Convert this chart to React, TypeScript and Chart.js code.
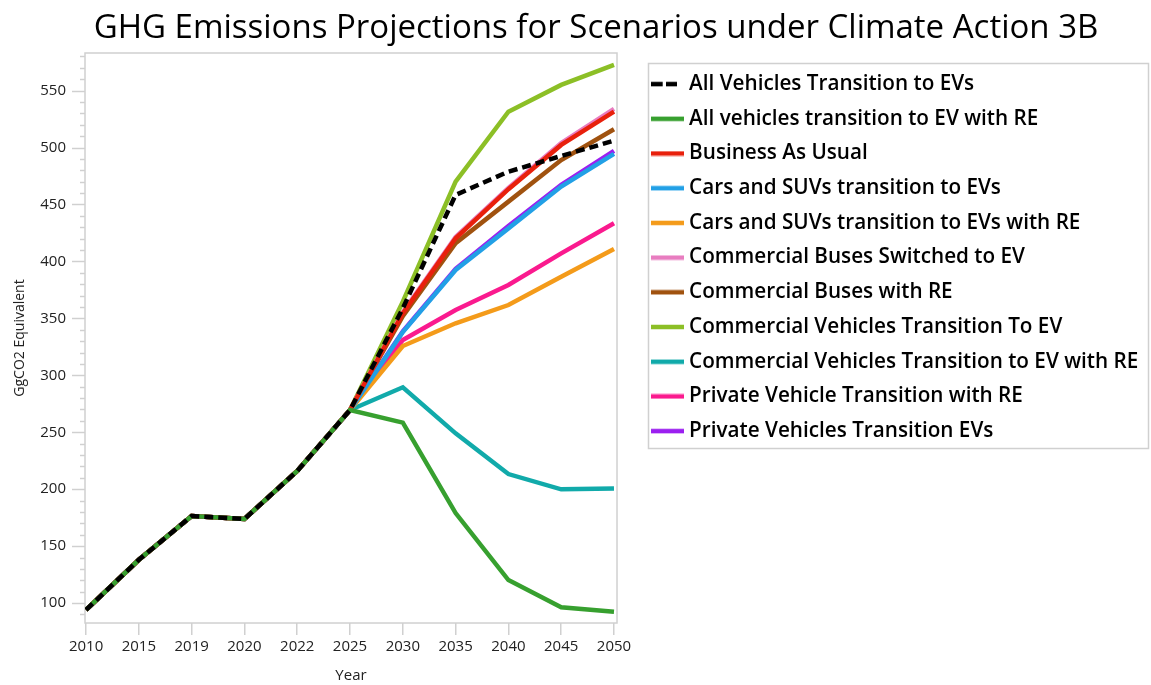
import React, { useEffect, useRef } from 'react';
import { Chart, registerables } from 'chart.js';
Chart.register(...registerables);

const years = ['2010', '2015', '2019', '2020', '2022', '2025', '2030', '2035', '2040', '2045', '2050'];

const allVehiclesEV = [94, 138, 176.4, 173.8, 216, 269.5, 358.8, 458.4, 478.8, 492.6, 506];
const allVehiclesEVRE = [94, 138, 176.4, 173.8, 216, 269.5, 258.4, 179, 120.2, 96.3, 92.4];
const businessAsUsual = [94, 138, 176.4, 173.8, 216, 269.5, 354.4, 420.3, 463.4, 502.3, 531.5];
const carsSUVsEV = [94, 138, 176.4, 173.8, 216, 269.5, 338, 392.5, 429, 465.7, 494.4];
const carsSUVsEVRE = [94, 138, 176.4, 173.8, 216, 269.5, 325.7, 345.7, 361.7, 386.6, 411];
const busesEV = [94, 138, 176.4, 173.8, 216, 269.5, 355.5, 421.5, 464.5, 504, 534];
const busesRE = [94, 138, 176.4, 173.8, 216, 269.5, 352, 416, 452.5, 489, 516];
const commercialEV = [94, 138, 176.4, 173.8, 216, 269.5, 364.6, 470, 531.5, 555, 572.6];
const commercialEVRE = [94, 138, 176.4, 173.8, 216, 269.5, 289.5, 249, 213.3, 199.9, 200.7];
const privateRE = [94, 138, 176.4, 173.8, 216, 269.5, 331, 357.4, 379.3, 407, 433.5];
const privateEV = [94, 138, 176.4, 173.8, 216, 269.5, 338.5, 393.5, 431, 467.3, 497];

const seriesNames = [
  'All Vehicles Transition to EVs',
  'All vehicles transition to EV with RE',
  'Business As Usual',
  'Cars and SUVs transition to EVs',
  'Cars and SUVs transition to EVs with RE',
  'Commercial Buses Switched to EV',
  'Commercial Buses with RE',
  'Commercial Vehicles Transition To EV',
  'Commercial Vehicles Transition to EV with RE',
  'Private Vehicle Transition with RE',
  'Private Vehicles Transition EVs',
];
const seriesValues = [
  allVehiclesEV, allVehiclesEVRE, businessAsUsual, carsSUVsEV, carsSUVsEVRE,
  busesEV, busesRE, commercialEV, commercialEVRE, privateRE, privateEV,
];
const seriesColors = [
  '#000000', '#37a02f', '#e8200c', '#22a0e6', '#f49b1a',
  '#e87dc0', '#a0520f', '#8cbf26', '#11aaaa', '#fa1a8e', '#9b1ff0',
];

const chartTitle = 'GHG Emissions Projections for Scenarios under Climate Action 3B';
const yTitle = 'GgCO2 Equivalent';
const xTitle = 'Year';

const FONT = '"Open Sans", "Noto Sans", sans-serif';

function legendSwatch(color: string, dashed: boolean): HTMLCanvasElement {
  const c = document.createElement('canvas');
  c.width = 33;
  c.height = 6;
  const g = c.getContext('2d')!;
  g.strokeStyle = color;
  g.lineWidth = 4.5;
  g.beginPath();
  if (dashed) {
    g.moveTo(0, 3); g.lineTo(11.7, 3);
    g.moveTo(15, 3); g.lineTo(26, 3);
  } else {
    g.moveTo(0, 3); g.lineTo(33, 3);
  }
  g.stroke();
  return c;
}

const decorPlugin = {
  id: 'decor',
  afterLayout(chart: any) {
    const lg = chart.legend;
    if (lg) {
      const w = lg.width;
      const h = lg.height;
      lg.left = 642.25;
      lg.right = 642.25 + w;
      lg.top = 59.75;
      lg.bottom = 59.75 + h;
    }
  },
  beforeDatasetsDraw(chart: any) {
    const { ctx, chartArea: a } = chart;
    ctx.save();
    ctx.strokeStyle = '#d0d0d0';
    ctx.lineWidth = 1.5;
    ctx.strokeRect(a.left, a.top, a.right - a.left, a.bottom - a.top);
    const ys = chart.scales.y;
    ys.ticks.forEach((t: any) => {
      if (t.value % 10 !== 0) return;
      const py = Math.round(ys.getPixelForValue(t.value)) + 0.5;
      const major = t.value % 50 === 0;
      ctx.beginPath();
      ctx.moveTo(a.left - (major ? 13 : 5), py);
      ctx.lineTo(a.left, py);
      ctx.stroke();
    });
    ctx.restore();
  },
  afterDraw(chart: any) {
    const { ctx } = chart;
    ctx.save();
    ctx.strokeStyle = '#d0d0d0';
    ctx.lineWidth = 1.5;
    ctx.strokeRect(648.5, 63.5, 500, 385);
    ctx.fillStyle = '#000';
    ctx.font = '400 33px ' + FONT;
    ctx.textAlign = 'center';
    ctx.textBaseline = 'alphabetic';
    ctx.fillText(chartTitle, 596, 38);
    ctx.restore();
  },
};

export default function App() {
  const ref = useRef<HTMLCanvasElement>(null);
  useEffect(() => {
    document.body.style.margin = '0';
    const canvas = ref.current!;
    const datasets = seriesNames.map((name, i) => ({
      label: name,
      data: seriesValues[i].map((v, k) => ({ x: k, y: v })),
      borderColor: seriesColors[i],
      backgroundColor: seriesColors[i],
      borderWidth: 4.5,
      borderDash: i === 0 ? [9, 5] : [],
      pointRadius: 0,
      pointStyle: legendSwatch(seriesColors[i], i === 0),
      tension: 0,
      fill: false,
    }));
    const chart = new Chart(canvas, {
      type: 'line',
      data: { datasets },
      plugins: [decorPlugin],
      options: {
        animation: false,
        responsive: false,
        devicePixelRatio: 1,
        layout: { padding: { top: 53, right: 534, bottom: 0, left: 0 } },
        plugins: {
          title: { display: false },
          tooltip: { enabled: false },
          legend: {
            display: true,
            position: 'chartArea',
            align: 'start',
            labels: {
              usePointStyle: true,
              pointStyleWidth: 22.5,
              padding: 14,
              color: '#000',
              font: { family: FONT, size: 20.7, weight: '600' },
            },
          },
        },
        scales: {
          x: {
            type: 'linear',
            min: -0.02,
            max: 10.057,
            afterFit: (s: any) => { s.height = 62; },
            border: { display: false },
            grid: { drawOnChartArea: false, drawTicks: true, tickLength: 12, color: '#d0d0d0', lineWidth: 1.5 },
            ticks: {
              stepSize: 1,
              includeBounds: false,
              autoSkip: false,
              maxRotation: 0,
              padding: 3,
              color: '#222',
              font: { family: FONT, size: 15 },
              callback: (v: any) => years[v] ?? '',
            },
            title: { display: true, text: xTitle, color: '#222', padding: { top: 0, bottom: 0 }, font: { family: FONT, size: 15 } },
          },
          y: {
            type: 'linear',
            min: 82.5,
            max: 583,
            afterFit: (s: any) => { s.width = 85; },
            border: { display: false },
            grid: { drawOnChartArea: false, drawTicks: true, tickLength: 13, color: 'rgba(0,0,0,0)' },
            ticks: {
              stepSize: 10,
              includeBounds: false,
              autoSkip: false,
              padding: 6,
              color: '#222',
              font: { family: FONT, size: 15 },
              callback: (v: any) => (v % 50 === 0 ? String(v) : ''),
            },
            title: { display: true, text: yTitle, color: '#222', padding: { top: 12, bottom: 0 }, font: { family: FONT, size: 14 } },
          },
        },
      },
    } as any);
    return () => chart.destroy();
  }, []);
  return (
    <div style={{ width: 1151, height: 685 }}>
      <canvas ref={ref} width={1151} height={685} style={{ display: 'block' }} />
    </div>
  );
}
